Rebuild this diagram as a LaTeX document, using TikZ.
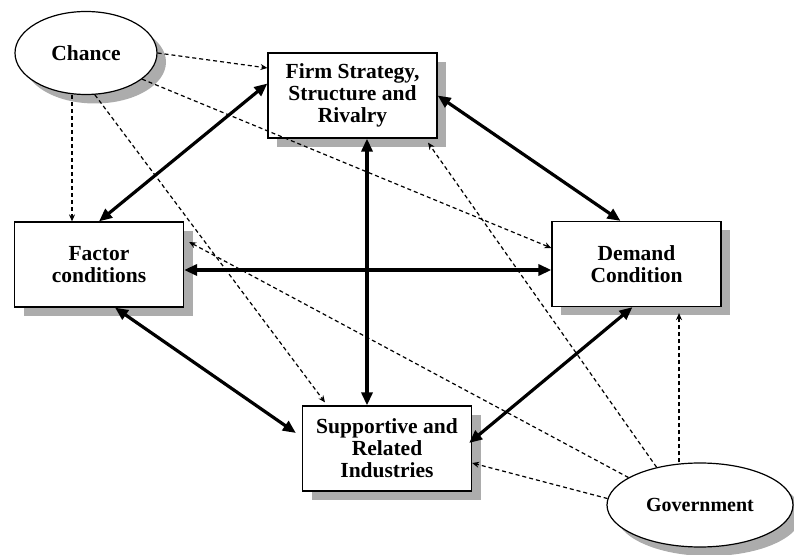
\documentclass[tikz,border=0pt]{standalone}
\usepackage{fontspec}
\setmainfont{Liberation Serif}
\usetikzlibrary{shapes.geometric, shadows, arrows.meta, calc}

\begin{document}
\begin{tikzpicture}[x=1pt, y=1pt,
  every node/.style={font=\bfseries\fontsize{21.5}{22}\selectfont, align=center},
  shade box/.style={drop shadow={shadow xshift=9pt, shadow yshift=-9pt,
      fill=gray!65, opacity=1}},
  box/.style={draw, line width=1.2pt, fill=white, inner sep=0pt,
    minimum width=169pt, minimum height=85pt, shade box},
  oval/.style={ellipse, draw, line width=1.2pt, fill=white, inner sep=0pt,
    shade box},
  link/.style={line width=3.2pt,
    {Triangle[length=13pt,width=11pt]}-{Triangle[length=13pt,width=11pt]}},
  infl/.style={line width=1.2pt, dash pattern=on 4pt off 3pt,
    -{Stealth[length=7pt,width=6pt]}}]
  \useasboundingbox (0,0) rectangle (794,554);

  % the diamond
  \node[box] (firm) at (352.5,458.5) {Firm Strategy,\\Structure and\\Rivalry};
  \node[box] (factor) at (99,289.5) {Factor\\conditions};
  \node[box] (demand) at (636.5,290) {Demand\\Condition};
  \node[box] (supp) at (387,105.5) {Supportive and\\Related\\Industries};

  % outside forces
  \node[oval, minimum width=142pt, minimum height=83pt] (chance) at (86,501) {Chance};
  \node[oval, minimum width=186pt, minimum height=84pt,
    font=\bfseries\fontsize{20}{22}\selectfont] (gov) at (700,49) {Government};

  % strong links
  \draw[link] ([yshift=12pt]firm.west) -- (factor.north);
  \draw[link] (firm.east) -- ([xshift=-16pt]demand.north);
  \draw[link] ([xshift=14.5pt]firm.south) -- ([xshift=14.5pt]firm.south |- supp.north);
  \draw[link] ([yshift=-5.5pt]factor.east) -- ([yshift=-5.5pt]factor.east -| demand.west);
  \draw[link] ([xshift=16pt]factor.south) -- ([xshift=-6pt,yshift=15.5pt]supp.west);
  \draw[link] ([xshift=-4pt]demand.south) -- ([xshift=-3pt,yshift=5.5pt]supp.east);

  % influences of chance
  \draw[infl] (chance.east) -- ([yshift=27.5pt]firm.west);
  \draw[infl] ([xshift=-14pt]chance.south) -- ([xshift=-14pt]chance.south |- factor.north);
  \draw[infl] (chance.-25) -- ([yshift=16pt]demand.west);
  \draw[infl] (chance.-78) -- ([xshift=-62pt,yshift=3pt]supp.north);

  % influences of government
  \draw[infl] (gov.159) -- ([xshift=5pt,yshift=22.5pt]factor.east);
  \draw[infl] (gov.139) -- ([xshift=75.5pt,yshift=-4pt]firm.south);
  \draw[infl] ([xshift=-21pt]gov.north) -- ([xshift=-21pt,yshift=-6pt]gov.north |- demand.south);
  \draw[infl] (gov.176) -- ([yshift=-14.5pt]supp.east);
\end{tikzpicture}
\end{document}
